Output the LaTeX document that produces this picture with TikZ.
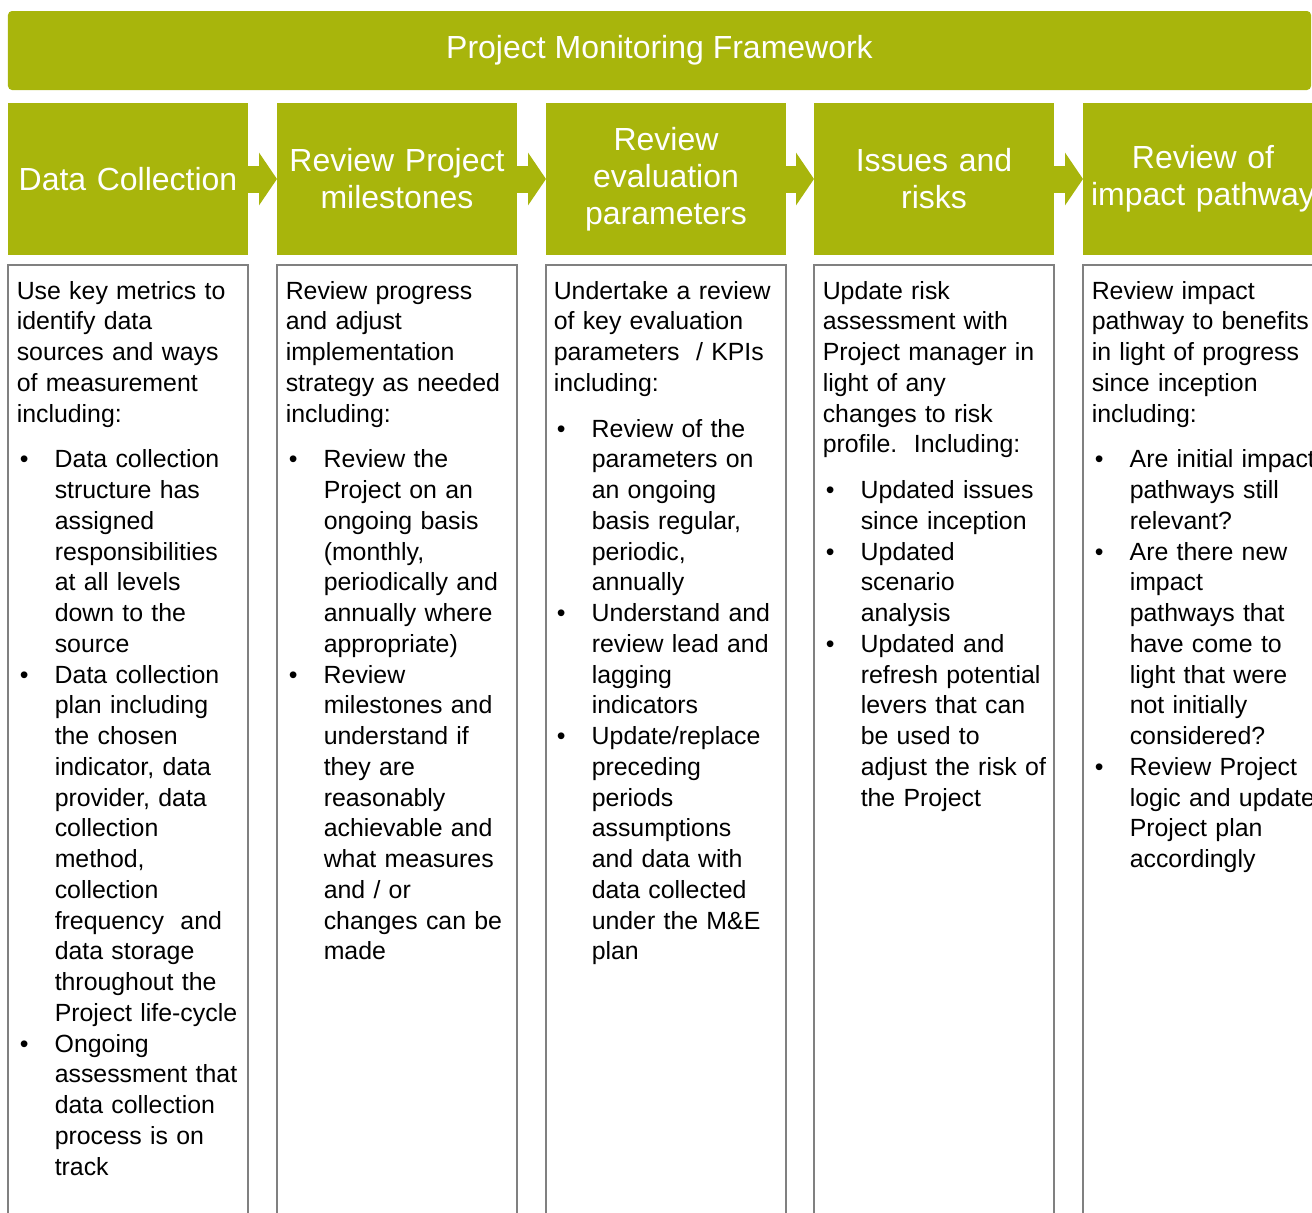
\documentclass[tikz,border=0pt]{standalone}
\usepackage{fontspec}
\setmainfont{Liberation Sans}
\usetikzlibrary{arrows.meta,calc}
\definecolor{pmfgreen}{RGB}{168,181,12}
\definecolor{boxgray}{RGB}{128,128,128}
\newcommand{\bul}{\par\noindent\hangindent=7.6mm\hangafter=1\makebox[7.6mm][l]{\hspace{0.6mm}\textbullet}}
\newcommand{\gap}{\par\vspace{3mm}}

\begin{document}
\begin{tikzpicture}[x=0.2mm,y=-0.2mm,line width=0.3mm,
   head/.style={fill=pmfgreen,text=white,minimum width=48mm,minimum height=30.4mm,
      text width=46mm,align=center,inner sep=0pt,outer sep=0pt,font=\fontsize{18.2}{21}\selectfont},
   body/.style={anchor=base west,text width=46.4mm,align=left,inner sep=0pt,
      font=\fontsize{14.15}{17.5}\selectfont},
   frame/.style={draw=boxgray},
   flow/.style={pmfgreen,line width=5.4mm,-{Triangle[length=3.6mm,width=10.4mm]}}]

   \useasboundingbox (0,0) rectangle (1312,1212);
   \clip (0,0) rectangle (1312,1212);

   \node[fill=pmfgreen,text=white,rounded corners=0.8mm,minimum width=260.6mm,minimum height=15.8mm,
      inner sep=0pt,font=\fontsize{18.2}{21}\selectfont] (title) at (659.5,50.5) {Project Monitoring Framework};

   \node[head] (dcHead) at (128,179) {Data Collection};
   \node[head] (rpHead) at (397,179) {Review Project\\milestones};
   \node[head] (epHead) at (666,179) {Review\\evaluation\\parameters};
   \node[head] (irHead) at (934,179) {Issues and\\risks};
   \node[head] (ipHead) at (1203,179) {Review of\\impact pathway};

   \draw[flow] (dcHead.east) -- (rpHead.west);
   \draw[flow] (rpHead.east) -- (epHead.west);
   \draw[flow] (epHead.east) -- (irHead.west);
   \draw[flow] (irHead.east) -- (ipHead.west);

   \foreach \x in {8,277,546,814,1083}
      \draw[frame] (\x,265) rectangle ++(240,970);

   \node[body] (dcText) at (16,299) {\noindent Use key metrics to\newline identify data\newline
      sources and ways\newline of measurement\newline including:\gap
      \bul Data collection\newline structure has\newline assigned\newline responsibilities\newline
      at all levels\newline down to the\newline source
      \bul Data collection\newline plan including\newline the chosen\newline indicator, data\newline
      provider, data\newline collection\newline method,\newline collection\newline
      frequency\ \ and\newline data storage\newline throughout the\newline Project life-cycle
      \bul Ongoing\newline assessment that\newline data collection\newline process is on\newline track\par};

   \node[body] (rpText) at (285,299) {\noindent Review progress\newline and adjust\newline
      implementation\newline strategy as needed\newline including:\gap
      \bul Review the\newline Project on an\newline ongoing basis\newline (monthly,\newline
      periodically and\newline annually where\newline appropriate)
      \bul Review\newline milestones and\newline understand if\newline they are\newline
      reasonably\newline achievable and\newline what measures\newline and / or\newline
      changes can be\newline made\par};

   \node[body] (epText) at (553,299) {\noindent Undertake a review\newline of key evaluation\newline
      parameters\ \ / KPIs\newline including:\gap
      \bul Review of the\newline parameters on\newline an ongoing\newline basis regular,\newline
      periodic,\newline annually
      \bul Understand and\newline review lead and\newline lagging\newline indicators
      \bul Update/replace\newline preceding\newline periods\newline assumptions\newline
      and data with\newline data collected\newline under the M\&E\newline plan\par};

   \node[body] (irText) at (822,299) {\noindent Update risk\newline assessment with\newline
      Project manager in\newline light of any\newline changes to risk\newline profile.\ \ Including:\gap
      \bul Updated issues\newline since inception
      \bul Updated\newline scenario\newline analysis
      \bul Updated and\newline refresh potential\newline levers that can\newline be used to\newline
      adjust the risk of\newline the Project\par};

   \node[body] (ipText) at (1091,299) {\noindent Review impact\newline pathway to benefits\newline
      in light of progress\newline since inception\newline including:\gap
      \bul Are initial impact\newline pathways still\newline relevant?
      \bul Are there new\newline impact\newline pathways that\newline have come to\newline
      light that were\newline not initially\newline considered?
      \bul Review Project\newline logic and update\newline Project plan\newline accordingly\par};

\end{tikzpicture}
\end{document}
